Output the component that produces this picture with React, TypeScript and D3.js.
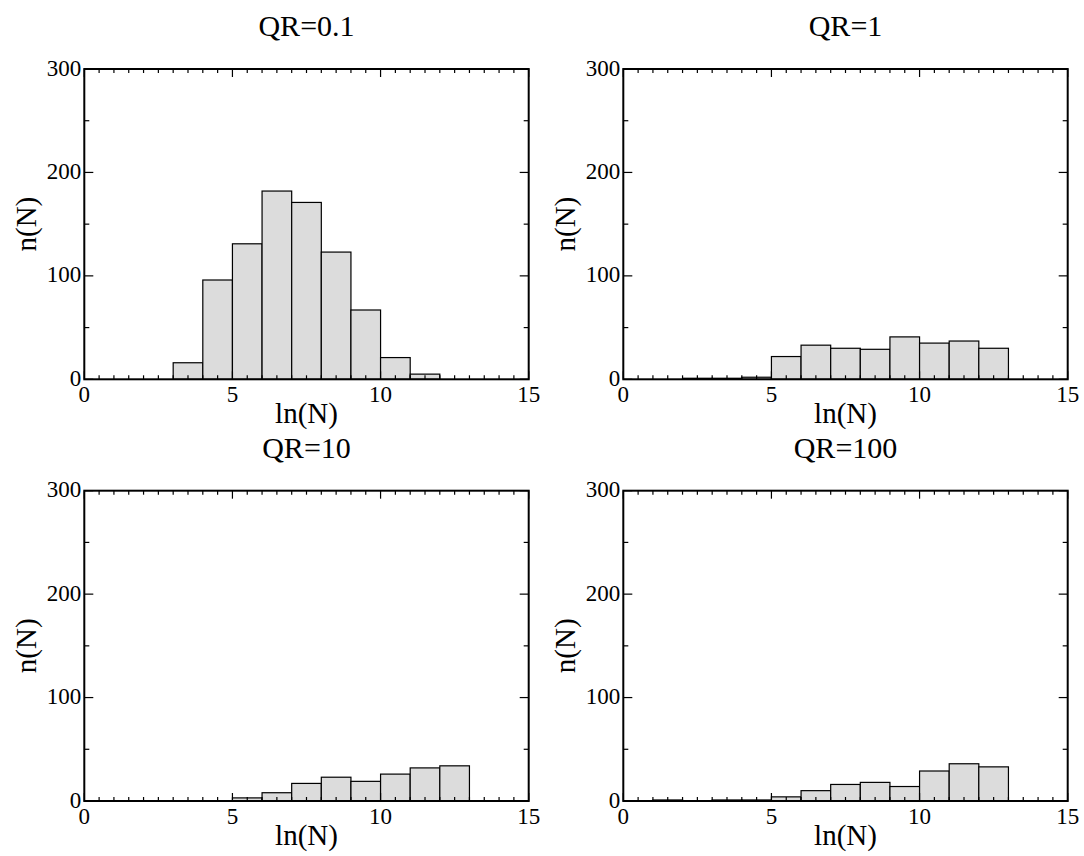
import React, { useEffect, useRef } from "react";
import * as d3 from "d3";

const titles = ["QR=0.1", "QR=1", "QR=10", "QR=100"];
const xTickValues = [0, 5, 10, 15];
const yTickValues = [0, 100, 200, 300];
const binWidth = 1;

const bins01 = [3, 4, 5, 6, 7, 8, 9, 10, 11];
const counts01 = [16, 96, 131, 182, 171, 123, 67, 21, 5];

const bins1 = [2, 3, 4, 5, 6, 7, 8, 9, 10, 11, 12];
const counts1 = [1, 1, 2, 22, 33, 30, 29, 41, 35, 37, 30];

const bins10 = [5, 6, 7, 8, 9, 10, 11, 12];
const counts10 = [3, 8, 17, 23, 19, 26, 32, 34];

const bins100 = [1, 3, 4, 5, 6, 7, 8, 9, 10, 11, 12];
const counts100 = [1, 1, 1, 4, 10, 16, 18, 14, 29, 36, 33];

const panelBins = [bins01, bins1, bins10, bins100];
const panelCounts = [counts01, counts1, counts10, counts100];

const W = 1084;
const H = 856;
const FONT = "'Liberation Serif', 'Times New Roman', serif";

const panelLefts = [84.3, 623.3, 84.3, 623.3];
const panelTops = [69, 69, 490.7, 490.7];
const PW = 444.4;
const PH = 310.3;

export default function App() {
  const ref = useRef<SVGSVGElement>(null);

  useEffect(() => {
    document.body.style.margin = "0";
    const svg = d3.select(ref.current);
    svg.selectAll("*").remove();
    svg.append("rect").attr("width", W).attr("height", H).attr("fill", "#fff");

    for (let p = 0; p < 4; p++) {
      const left = panelLefts[p];
      const top = panelTops[p];
      const x = d3.scaleLinear().domain([0, 15]).range([left, left + PW]);
      const y = d3.scaleLinear().domain([0, 300]).range([top + PH, top]);
      const g = svg.append("g");

      const data = panelBins[p].map((b, i) => ({ b, c: panelCounts[p][i] }));
      g.selectAll("rect.bar")
        .data(data)
        .enter()
        .append("rect")
        .attr("class", "bar")
        .attr("x", (d) => x(d.b))
        .attr("width", (d) => x(d.b + binWidth) - x(d.b))
        .attr("y", (d) => y(d.c))
        .attr("height", (d) => y(0) - y(d.c))
        .attr("fill", "#dcdcdc")
        .attr("stroke", "#000")
        .attr("stroke-width", 1.2);

      const xMinor = d3.range(0, 15.001, 0.5);
      const yMinor = d3.range(0, 300.001, 50);
      const tk = g.append("g").attr("stroke", "#000").attr("stroke-width", 1.2);
      xMinor.forEach((v) => {
        const len = v % 5 === 0 ? 8 : 4;
        tk.append("line").attr("x1", x(v)).attr("x2", x(v)).attr("y1", y(0)).attr("y2", y(0) - len);
        tk.append("line").attr("x1", x(v)).attr("x2", x(v)).attr("y1", y(300)).attr("y2", y(300) + len);
      });
      yMinor.forEach((v) => {
        const len = v % 100 === 0 ? 9 : 5;
        tk.append("line").attr("x1", x(0)).attr("x2", x(0) + len).attr("y1", y(v)).attr("y2", y(v));
        tk.append("line").attr("x1", x(15)).attr("x2", x(15) - len).attr("y1", y(v)).attr("y2", y(v));
      });

      g.append("rect")
        .attr("x", x(0))
        .attr("y", y(300))
        .attr("width", x(15) - x(0))
        .attr("height", y(0) - y(300))
        .attr("fill", "none")
        .attr("stroke", "#000")
        .attr("stroke-width", 2);

      const txt = g.append("g").attr("font-family", FONT).attr("fill", "#000");
      xTickValues.forEach((v) => {
        txt.append("text").attr("x", x(v)).attr("y", y(0) + 23).attr("text-anchor", "middle").attr("font-size", 23).text(String(v));
      });
      yTickValues.forEach((v) => {
        txt.append("text").attr("x", x(0) - 3).attr("y", y(v) + 6.5).attr("text-anchor", "end").attr("font-size", 23).text(String(v));
      });
      txt.append("text").attr("x", (x(0) + x(15)) / 2).attr("y", top - 33).attr("text-anchor", "middle").attr("font-size", 30).text(titles[p]);
      txt.append("text").attr("x", (x(0) + x(15)) / 2).attr("y", y(0) + 44).attr("text-anchor", "middle").attr("font-size", 29).text("ln(N)");
      txt.append("text")
        .attr("transform", `translate(${x(0) - 48},${(y(0) + y(300)) / 2}) rotate(-90)`)
        .attr("text-anchor", "middle")
        .attr("font-size", 29)
        .text("n(N)");
    }
  }, []);

  return <svg ref={ref} width={W} height={H} style={{ display: "block" }} />;
}
